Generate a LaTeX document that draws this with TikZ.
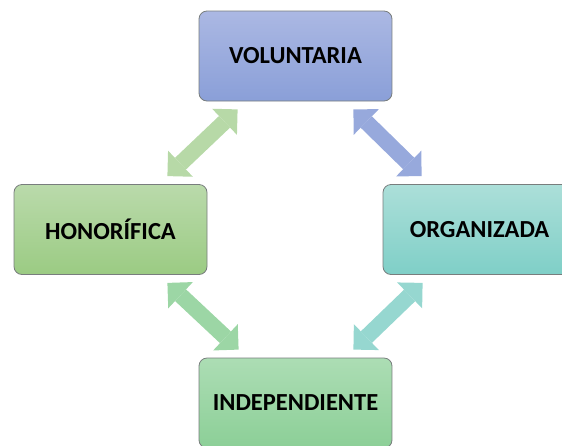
\documentclass[tikz,border=0pt]{standalone}
\usepackage{fontspec}
\setmainfont{Carlito}
\usepackage{tikz}
\usetikzlibrary{arrows.meta,calc}

\definecolor{volTop}{RGB}{171,184,227}
\definecolor{volBot}{RGB}{138,159,216}
\definecolor{honTop}{RGB}{186,218,171}
\definecolor{honBot}{RGB}{155,203,131}
\definecolor{orgTop}{RGB}{172,223,217}
\definecolor{orgBot}{RGB}{127,207,199}
\definecolor{indTop}{RGB}{172,221,180}
\definecolor{indBot}{RGB}{140,207,151}
\definecolor{frame}{RGB}{120,125,125}

\begin{document}
\begin{tikzpicture}[x=1pt, y=-1pt,
        box/.style = {draw=frame, line width=0.8pt, rounded corners=8pt, minimum width=193pt, minimum height=90pt, font=\fontsize{24.5}{28}\selectfont\bfseries},
        link/.style = {line width=16pt, {Triangle[width=36pt,length=18pt,line width=0pt]}-{Triangle[width=36pt,length=18pt,line width=0pt]}}
        ]
        \useasboundingbox (0,0) rectangle (562,445);

        \node[box, top color=volTop, bottom color=volBot] (vol) at (295.5,56) {VOLUNTARIA};
        \node[box, top color=honTop, bottom color=honBot] (hon) at (110.5,229.5) {HONORÍFICA};
        \node[box, top color=orgTop, bottom color=orgBot] (org) at (479.5,229.5) {ORGANIZADA};
        \node[box, top color=indTop, bottom color=indBot] (ind) at (295.5,403) {INDEPENDIENTE};

        \draw[link, color=honTop!90!honBot] ($(hon.north east)+(-40,-8)$) -- ($(vol.south west)+(39,8)$);
        \draw[link, color=volTop!40!volBot] ($(vol.south east)+(-39,8)$) -- ($(org.north west)+(39,-8)$);
        \draw[link, color=indTop!50!indBot] ($(hon.south east)+(-40,8)$) -- ($(ind.north west)+(40,-8)$);
        \draw[link, color=orgTop!50!orgBot] ($(org.south west)+(40,8)$) -- ($(ind.north east)+(-39,-8)$);

    \end{tikzpicture}
\end{document}
